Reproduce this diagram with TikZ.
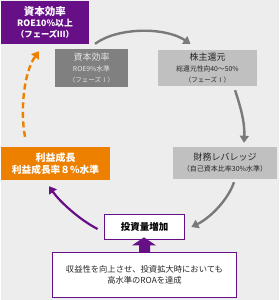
\documentclass[tikz,border=0pt]{standalone}
\usepackage{fontspec}
\setmainfont{Noto Sans CJK JP}
\usetikzlibrary{arrows.meta,calc}
\definecolor{bgc}{HTML}{EDEDED}
\definecolor{purp}{HTML}{660F87}
\definecolor{orng}{HTML}{EE8000}
\definecolor{dgray}{HTML}{808080}
\definecolor{lgray}{HTML}{C0C0C0}
\definecolor{agray}{HTML}{7A7A7A}
\tikzset{
  box/.style={rectangle, inner sep=0pt, align=center},
  garrow/.style={draw=agray, line width=2.4pt, -{Triangle[length=7pt,width=9pt]}},
  parrow/.style={draw=purp, line width=2.2pt, -{Triangle[length=7pt,width=9pt]}},
  oarrow/.style={draw=orng, line width=2.4pt, dash pattern=on 6pt off 3.5pt, -{Triangle[length=7pt,width=9pt]}},
}
\begin{document}
\begin{tikzpicture}[x=1pt,y=-1pt]
\path[use as bounding box] (0,0) rectangle (279,300);
\fill[bgc] (1,0) rectangle (279,300);
% boxes
\node[box, fill=purp, text=white, font=\bfseries, minimum width=88pt, minimum height=43pt] (pb) at (45,22.5)
  {{\fontsize{10.5}{12}\selectfont 資本効率}\\[-1pt]{\fontsize{8.8}{11}\selectfont ROE10\%以上}\\[-1pt]{\fontsize{8.3}{11}\selectfont （フェーズⅢ）}};
\node[box, fill=dgray, text=black!10, minimum width=73pt, minimum height=38pt] (b1) at (91.5,68)
  {{\fontsize{9}{11}\selectfont 資本効率}\\[-1pt]{\fontsize{6.8}{9}\selectfont ROE9\%水準}\\[-1.5pt]{\fontsize{6.5}{9}\selectfont （フェーズⅠ）}};
\node[box, fill=lgray, text=black!85, minimum width=99pt, minimum height=36pt] (b2) at (207.5,68)
  {{\fontsize{9}{11}\selectfont 株主還元}\\[-1.5pt]{\fontsize{6.8}{8.5}\selectfont 総還元性向40～50\%}\\[-1pt]{\fontsize{6.5}{8.5}\selectfont （フェーズⅠ）}};
\node[box, fill=orng, text=white, font=\bfseries, minimum width=109pt, minimum height=33pt] (ob) at (55.5,163.5)
  {{\fontsize{10}{12.5}\selectfont 利益成長}\\[0pt]{\fontsize{9.7}{12.5}\selectfont 利益成長率８\%水準}};
\node[box, fill=lgray, text=black!85, minimum width=104pt, minimum height=32pt] (b4) at (225,163)
  {{\fontsize{9}{11}\selectfont 財務レバレッジ}\\[-1pt]{\fontsize{7}{9}\selectfont （自己資本比率30\%水準）}};
\node[box, fill=white, draw=purp, line width=1.8pt, font=\bfseries, minimum width=80pt, minimum height=25pt] (b5) at (144.5,227)
  {\fontsize{9.5}{11}\selectfont 投資量増加};
\node[box, fill=white, draw=purp, line width=1.8pt, text=black!85, minimum width=184pt, minimum height=45pt] (b6) at (144.5,275)
  {{\fontsize{8.3}{10}\selectfont 収益性を向上させ、投資拡大時においても}\\[-0.5pt]{\fontsize{8.3}{10}\selectfont 高水準のROAを達成}};
% block arrow from b6 to b5
\fill[purp] ($(b6.north)+(-5.5,1)$) -- ($(b5.south)+(-5.5,5)$) -- ($(b5.south)+(-12.5,5)$)
  -- ($(b5.south)+(-0.5,-3)$) -- ($(b5.south)+(11.5,5)$) -- ($(b5.south)+(5.5,5)$)
  -- ($(b6.north)+(5.5,1)$) -- cycle;
% connectors
\draw[garrow] ([xshift=3.5pt,yshift=5pt]b1.north) .. controls (118,27) and (165,27) .. ([xshift=-17pt,yshift=6pt]b2.north);
\draw[garrow] ([xshift=27.5pt,yshift=-4pt]b2.south) .. controls (240,105) and (245,122) .. ([xshift=19pt,yshift=4pt]b4.north);
\draw[garrow] ([xshift=9pt,yshift=-3pt]b4.south) .. controls (228,200) and (210,218) .. ([xshift=6pt]b5.east);
\draw[parrow] ([xshift=-6pt,yshift=-2pt]b5.west) .. controls (80,220) and (60,202) .. ([xshift=-6.5pt,yshift=-6pt]ob.south);
\draw[oarrow] ([xshift=-30.5pt,yshift=10pt]ob.north) .. controls (20,110) and (24,72) .. ([xshift=-6pt,yshift=-7pt]pb.south);
\end{tikzpicture}
\end{document}
